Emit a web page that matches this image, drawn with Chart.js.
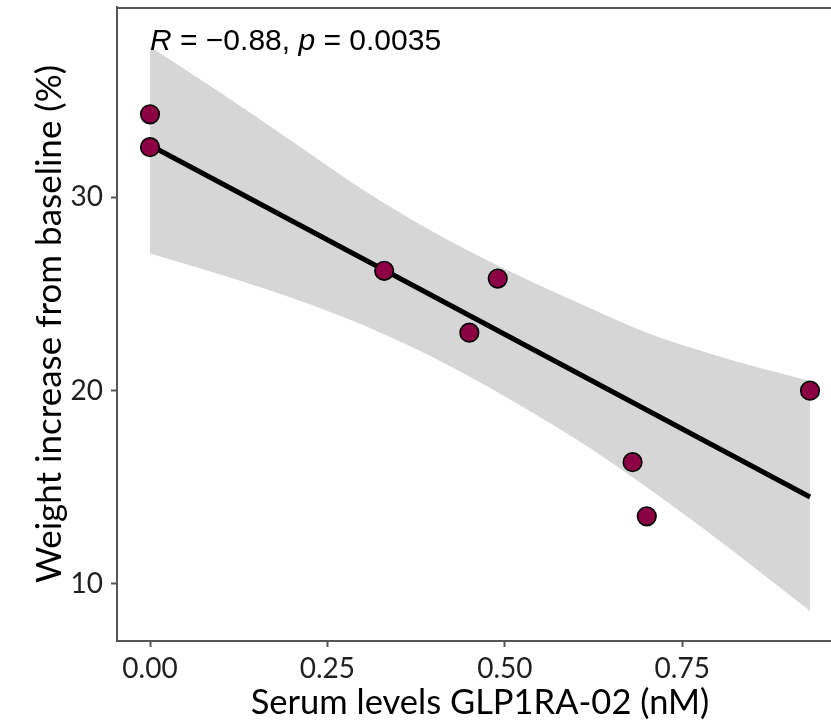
<!DOCTYPE html>
<html><head><meta charset="utf-8">
<script src="https://cdn.jsdelivr.net/npm/chart.js@4.4.1/dist/chart.umd.min.js"></script>
<style>html,body{margin:0;padding:0;background:#fff;overflow:hidden;width:831px;height:722px}#wrap{width:843px;height:722px;position:relative}</style>
</head><body><div id="wrap"><canvas id="c"></canvas></div>
<script>
// ---- data ----
const serumLevels    = [0.00, 0.00, 0.33, 0.45, 0.49, 0.68, 0.70, 0.93];
const weightIncrease = [34.3, 32.6, 26.2, 23.0, 25.8, 16.3, 13.5, 20.0];
const fitX = [0.00, 0.93];
const fitY = [32.7, 14.5];
const bandX     = [0.00, 0.10, 0.20, 0.30, 0.40, 0.50, 0.60, 0.70, 0.80, 0.93];
const bandUpper = [37.8, 35.4, 32.9, 30.4, 28.2, 26.3, 24.6, 23.0, 21.8, 20.5];
const bandLower = [27.1, 26.0, 24.8, 23.4, 21.7, 19.7, 17.5, 15.0, 12.3, 8.6];
const xTicks = [0, 0.25, 0.50, 0.75];
const yTicks = [10, 20, 30];
const statR = '−0.88';
const statP = '0.0035';
const xTitle = 'Serum levels GLP1RA-02 (nM)';
const yTitle = 'Weight increase from baseline (%)';

const pts = (xs, ys) => xs.map((v, i) => ({x: v, y: ys[i]}));
const UI = 'Lato, "Noto Sans", sans-serif';

const annot = {
  id: 'annot',
  afterDatasetsDraw(chart) {
    const {ctx, chartArea, scales: {x, y}} = chart;
    ctx.save();
    ctx.strokeStyle = '#555'; ctx.lineWidth = 2;
    ctx.beginPath(); ctx.moveTo(chartArea.left - 1, chartArea.top + 1); ctx.lineTo(chartArea.right, chartArea.top + 1); ctx.stroke();
    let px = x.getPixelForValue(0), py = y.getPixelForValue(37.62);
    ctx.fillStyle = '#000'; ctx.textBaseline = 'alphabetic'; ctx.textAlign = 'left';
    const parts = [['R', true], [' = ' + statR + ', ', false], ['p', true], [' = ' + statP, false]];
    for (const [t, it] of parts) {
      ctx.font = (it ? 'italic ' : '') + '30px "Liberation Sans", Arial, sans-serif';
      ctx.fillText(t, px, py);
      px += ctx.measureText(t).width;
    }
    ctx.restore();
  }
};

new Chart(document.getElementById('c'), {
  type: 'scatter',
  data: {
    datasets: [
      {label: 'points', data: pts(serumLevels, weightIncrease), order: 0,
       pointRadius: 9.3, pointHoverRadius: 9.3, pointBackgroundColor: '#8C0044', pointBorderColor: '#000', pointBorderWidth: 1.6},
      {label: 'fit', type: 'line', data: pts(fitX, fitY), order: 1, showLine: true,
       borderColor: '#000', borderWidth: 5, borderCapStyle: 'butt', pointRadius: 0, fill: false},
      {label: 'upper', type: 'line', data: pts(bandX, bandUpper), order: 2, showLine: true,
       borderWidth: 0, borderColor: 'rgba(0,0,0,0)', pointRadius: 0, cubicInterpolationMode: 'monotone',
       fill: '+1', backgroundColor: '#D6D6D6'},
      {label: 'lower', type: 'line', data: pts(bandX, bandLower), order: 3, showLine: true,
       borderWidth: 0, borderColor: 'rgba(0,0,0,0)', pointRadius: 0, cubicInterpolationMode: 'monotone', fill: false}
    ]
  },
  options: {
    responsive: true, maintainAspectRatio: false, animation: false,
    layout: {autoPadding: false, padding: {top: 7, right: 0, left: 0, bottom: 0}},
    plugins: {legend: {display: false}, tooltip: {enabled: false}},
    scales: {
      x: {
        type: 'linear', min: -0.0465, max: 0.9765,
        afterBuildTicks: s => { s.ticks = xTicks.map(v => ({value: v})); },
        afterFit: s => { s.height = 81; s.paddingLeft = 0; s.paddingRight = 0; },
        grid: {display: true, drawOnChartArea: false, drawTicks: true, tickLength: 6, tickColor: '#555', tickWidth: 2},
        border: {display: true, color: '#555', width: 2},
        ticks: {color: '#1f1f1f', font: {family: UI, size: 28}, padding: 5, maxRotation: 0,
                callback: v => Number(v).toFixed(2)},
        title: {display: true, text: xTitle, color: '#000', font: {family: UI, size: 34.5}, padding: {top: 0, bottom: -2}}
      },
      y: {
        type: 'linear', min: 7.05, max: 39.85,
        afterBuildTicks: s => { s.ticks = yTicks.map(v => ({value: v})); },
        afterFit: s => { s.width = 117; s.paddingTop = 0; s.paddingBottom = 0; },
        grid: {display: true, drawOnChartArea: false, drawTicks: true, tickLength: 6, tickColor: '#555', tickWidth: 2},
        border: {display: true, color: '#555', width: 2},
        ticks: {color: '#1f1f1f', font: {family: UI, size: 28}, padding: 8, callback: v => String(v)},
        title: {display: true, text: yTitle, color: '#000', font: {family: UI, size: 35}, padding: {top: 29, bottom: 0}}
      }
    }
  },
  plugins: [annot]
});
</script></body></html>
